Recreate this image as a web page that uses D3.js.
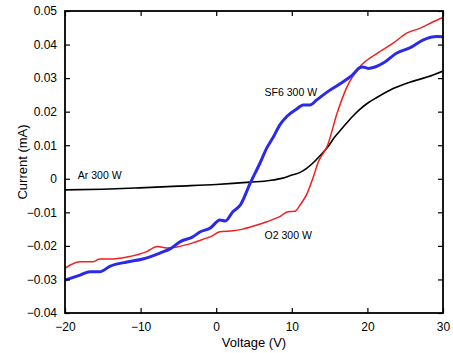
<!DOCTYPE html>
<html>
<head>
<meta charset="utf-8">
<script src="https://cdn.jsdelivr.net/npm/d3@7"></script>
<style>
  html, body { margin: 0; padding: 0; background: #fff; }
  svg { display: block; font-family: "Liberation Sans", Arial, Helvetica, sans-serif; }
</style>
</head>
<body>
<svg id="chart" width="453" height="353"></svg>
<script>
// ---- Data (Voltage in V, Current in mA) ----
const xTicks = [-20, -10, 0, 10, 20, 30];
const yTicks = [-0.04, -0.03, -0.02, -0.01, 0, 0.01, 0.02, 0.03, 0.04, 0.05];
const xTickLabels = ["\u221220", "\u221210", "0", "10", "20", "30"];
const yTickLabels = ["\u22120.04", "\u22120.03", "\u22120.02", "\u22120.01", "0", "0.01", "0.02", "0.03", "0.04", "0.05"];

const arV = [-20, -15, -10.1, -5, 0, 4.5, 7.1, 8.8, 10.0, 11.1, 12.0, 12.8, 13.7, 14.7, 15.7, 16.8, 18.0, 19.0, 20.2, 21.3, 23.4, 25.6, 27.9, 30];
const arI = [-0.0033, -0.0031, -0.0027, -0.0022, -0.0017, -0.0010, -0.0005, 0.0002, 0.0011, 0.0019, 0.0032, 0.0047, 0.0068, 0.0093, 0.0125, 0.0154, 0.0185, 0.0207, 0.0228, 0.0243, 0.0269, 0.0288, 0.0303, 0.0321];

const sf6V = [-20, -18.0, -16.7, -15.4, -14.0, -11.8, -9.7, -7.4, -6.1, -4.8, -3.1, -2.1, -0.8, 0.5, 1.2, 2.2, 3.2, 4.5, 5.8, 6.7, 7.5, 8.4, 9.4, 10.7, 11.5, 12.4, 13.3, 14.7, 16.8, 18.0, 19.0, 19.4, 20.1, 21.0, 22.1, 23.9, 25.6, 27.4, 29.2, 30];
const sf6I = [-0.0302, -0.0287, -0.0277, -0.0277, -0.0260, -0.0248, -0.0239, -0.0221, -0.0209, -0.0188, -0.0173, -0.0158, -0.0147, -0.0123, -0.0126, -0.0098, -0.0078, -0.0013, 0.0047, 0.0092, 0.0122, 0.0160, 0.0187, 0.0209, 0.0220, 0.0220, 0.0235, 0.0259, 0.0289, 0.0309, 0.0331, 0.0333, 0.0329, 0.0333, 0.0345, 0.0375, 0.0390, 0.0414, 0.0424, 0.0423];

const o2V = [-20, -19.3, -18.0, -16.3, -15.4, -14.0, -11.8, -9.2, -7.8, -6.5, -5.2, -3.1, -1.2, -0.8, 0.5, 2.2, 3.5, 5.4, 6.7, 8.4, 9.5, 10.4, 11.1, 12.0, 12.8, 13.5, 14.7, 16.0, 17.3, 19.0, 21.3, 23.4, 25.2, 27.0, 28.7, 30];
const o2I = [-0.0267, -0.0257, -0.0247, -0.0247, -0.0239, -0.0239, -0.0233, -0.0217, -0.0202, -0.0206, -0.0203, -0.0191, -0.0176, -0.0173, -0.0158, -0.0155, -0.0150, -0.0138, -0.0128, -0.0113, -0.0098, -0.0097, -0.0078, -0.0045, 0.0002, 0.0050, 0.0098, 0.0196, 0.0274, 0.0334, 0.0374, 0.0404, 0.0434, 0.0449, 0.0468, 0.0481];

const seriesNames = ["Ar 300 W", "SF6 300 W", "O2 300 W"];
const seriesColors = ["#000000", "#2a2ae8", "#ee2020"];
const labelPos = [[-18.3, -0.0000], [6.4, 0.0248], [6.4, -0.0179]];

// ---- Layout ----
const svg = d3.select("#chart");
const W = 453, H = 353;
const m = { left: 65, right: 10, top: 11, bottom: 40 };
const x = d3.scaleLinear().domain([-20, 30]).range([m.left, W - m.right]);
const y = d3.scaleLinear().domain([-0.04, 0.05]).range([H - m.bottom, m.top]);

svg.append("rect").attr("width", W).attr("height", H).attr("fill", "#fff");

svg.append("defs").append("clipPath").attr("id", "clip")
  .append("rect").attr("x", m.left).attr("y", m.top)
  .attr("width", x(30) - x(-20)).attr("height", y(-0.04) - y(0.05));

// ---- Lines ----
const line = d3.line().curve(d3.curveMonotoneX).x(d => x(d[0])).y(d => y(d[1]));
const series = [
  { v: arV, i: arI, w: 1.6 },
  { v: sf6V, i: sf6I, w: 3 },
  { v: o2V, i: o2I, w: 1.5 }
];
const g = svg.append("g").attr("clip-path", "url(#clip)");
// draw order: black, red, blue on top
[0, 2, 1].forEach(k => {
  const s = series[k];
  g.append("path")
    .datum(s.v.map((vv, j) => [vv, s.i[j]]))
    .attr("fill", "none")
    .attr("stroke", seriesColors[k])
    .attr("stroke-width", s.w)
    .attr("stroke-linejoin", "round")
    .attr("d", line);
});

// ---- Axes ----
const tickLen = 5;
const fmtX = (d) => xTickLabels[xTicks.indexOf(d)];
const fmtY = (d) => yTickLabels[yTicks.findIndex(t => Math.abs(t - d) < 1e-9)];

const axB = svg.append("g").attr("transform", `translate(0,${y(-0.04)})`)
  .call(d3.axisBottom(x).tickValues(xTicks).tickSize(-tickLen).tickPadding(9).tickFormat(fmtX));
const axT = svg.append("g").attr("transform", `translate(0,${y(0.05)})`)
  .call(d3.axisTop(x).tickValues(xTicks).tickSize(-tickLen).tickFormat(""));
const axL = svg.append("g").attr("transform", `translate(${x(-20)},0)`)
  .call(d3.axisLeft(y).tickValues(yTicks).tickSize(-tickLen).tickPadding(8).tickFormat(fmtY));
const axR = svg.append("g").attr("transform", `translate(${x(30)},0)`)
  .call(d3.axisRight(y).tickValues(yTicks).tickSize(-tickLen).tickFormat(""));

[axB, axT, axL, axR].forEach(a => {
  a.select(".domain").remove();
  a.selectAll(".tick line").attr("stroke", "#000").attr("stroke-width", 1.2);
  a.selectAll("text").attr("fill", "#000").style("font-size", "12px")
    .style("font-family", "'Liberation Sans', Arial, sans-serif");
});

// box
svg.append("rect")
  .attr("x", x(-20)).attr("y", y(0.05))
  .attr("width", x(30) - x(-20)).attr("height", y(-0.04) - y(0.05))
  .attr("fill", "none").attr("stroke", "#000").attr("stroke-width", 1.8);

// axis titles
svg.append("text").attr("x", (x(-20) + x(30)) / 2).attr("y", 347)
  .attr("text-anchor", "middle").style("font-size", "13px").text("Voltage (V)");
svg.append("text")
  .attr("transform", `translate(27,${(y(0.05) + y(-0.04)) / 2}) rotate(-90)`)
  .attr("text-anchor", "middle").style("font-size", "13px").text("Current (mA)");

// annotations
seriesNames.forEach((n, k) => {
  svg.append("text").attr("x", x(labelPos[k][0])).attr("y", y(labelPos[k][1]))
    .style("font-size", "10.5px").attr("fill", "#000").text(n);
});
</script>
</body>
</html>
